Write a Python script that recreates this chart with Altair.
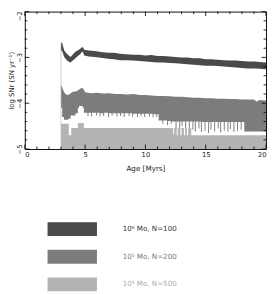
import altair as alt
import pandas as pd

# ---------------- data ----------------
x_domain = [0, 20]
y_domain = [-5, -2]
x_major = [0, 5, 10, 15, 20]
x_minor = [1, 2, 3, 4, 6, 7, 8, 9, 11, 12, 13, 14, 16, 17, 18, 19]
y_major = [-2, -3, -4, -5]
y_minor = [-2.2, -2.4, -2.6, -2.8, -3.2, -3.4, -3.6, -3.8,
           -4.2, -4.4, -4.6, -4.8]

series_labels = ["10⁶ Mo, N=100", "10⁵ Mo, N=200", "10⁴ Mo, N=500"]
series_colors = ["#4a4a4a", "#7c7c7c", "#b4b4b4"]
label_colors = ["#333333", "#777777", "#aaaaaa"]

# 10^6 Mo band (upper / lower edge)
dark_age = [3.0, 3.08, 3.27, 3.45, 3.6, 3.8, 4.0, 4.15, 4.3, 4.45, 4.6, 4.76,
            4.85, 4.92, 5.3, 5.8, 6.3, 6.9, 7.4, 7.9, 8.4, 9.0, 9.5, 10.0,
            10.5, 11.0, 11.5, 12.0, 12.5, 13.0, 13.5, 14.0, 14.5, 15.0, 15.5,
            16.0, 16.5, 17.0, 17.5, 18.0, 18.5, 19.0, 19.5, 20.0]
dark_top = [-2.68, -2.67, -2.85, -2.91, -2.95, -2.99, -2.93, -2.89, -2.86,
            -2.84, -2.81, -2.77, -2.79, -2.83, -2.85, -2.86, -2.88, -2.90,
            -2.90, -2.92, -2.93, -2.94, -2.94, -2.96, -2.95, -2.97, -2.97,
            -2.98, -2.99, -3.00, -3.00, -3.02, -3.02, -3.04, -3.04, -3.05,
            -3.06, -3.07, -3.07, -3.08, -3.09, -3.09, -3.10, -3.11]
dark_bot = [-2.86, -2.85, -2.99, -3.05, -3.09, -3.11, -3.06, -3.03, -2.99,
            -2.96, -2.93, -2.87, -2.90, -2.96, -2.98, -2.99, -3.01, -3.03,
            -3.04, -3.06, -3.06, -3.07, -3.08, -3.09, -3.10, -3.11, -3.11,
            -3.12, -3.13, -3.14, -3.15, -3.16, -3.17, -3.18, -3.18, -3.19,
            -3.20, -3.21, -3.22, -3.23, -3.24, -3.24, -3.25, -3.26]

# 10^5 Mo band: upper edge
mid_top_age = [3.0, 3.08, 3.2, 3.35, 3.6, 3.8, 4.0, 4.3, 4.5, 4.7, 4.85,
               5.0, 5.5, 6.0, 6.5, 7.0, 7.5, 8.0, 8.5, 9.0, 9.5, 10.0, 10.5,
               11.0, 11.5, 12.0, 12.5, 13.0, 13.5, 14.0, 14.5, 15.0, 15.5,
               16.0, 16.5, 17.0, 17.5, 18.0, 18.5, 19.0, 19.25, 19.4, 20.0]
mid_top = [-3.60, -3.64, -3.72, -3.80, -3.82, -3.78, -3.75, -3.74, -3.70,
           -3.67, -3.68, -3.76, -3.78, -3.77, -3.79, -3.78, -3.80, -3.80,
           -3.81, -3.80, -3.82, -3.82, -3.83, -3.84, -3.84, -3.85, -3.86,
           -3.86, -3.87, -3.88, -3.88, -3.89, -3.89, -3.90, -3.90, -3.91,
           -3.91, -3.92, -3.92, -3.92, -3.97, -3.93, -3.94]
# 10^5 Mo band: lower edge (age, log SNr), stepped
mid_bot_pts = [
    (3.0, -4.10), (3.1, -4.30), (3.25, -4.36), (3.6, -4.34), (3.8, -4.27),
    (4.2, -4.22), (4.4, -4.10), (4.5, -4.06), (4.8, -4.10), (4.9, -4.21),
    (5.2, -4.28), (5.28, -4.21), (5.5, -4.29), (5.58, -4.21), (5.9, -4.27),
    (5.98, -4.21), (6.2, -4.29), (6.28, -4.22), (6.5, -4.28), (6.58, -4.21),
    (6.9, -4.30), (6.98, -4.22), (7.2, -4.27), (7.28, -4.22), (7.6, -4.29),
    (7.68, -4.22), (7.9, -4.28), (7.98, -4.22), (8.2, -4.30), (8.28, -4.22),
    (8.6, -4.28), (8.68, -4.22), (8.9, -4.29), (8.98, -4.23), (9.3, -4.30),
    (9.38, -4.23), (9.6, -4.28), (9.68, -4.23), (9.9, -4.30), (9.98, -4.23),
    (10.3, -4.29), (10.38, -4.23), (10.6, -4.31), (10.68, -4.24),
    (10.9, -4.30), (10.98, -4.24), (11.1, -4.38), (11.4, -4.45),
    (11.48, -4.38), (11.8, -4.48), (11.88, -4.39), (12.1, -4.45),
    (12.18, -4.40), (12.5, -4.55), (12.58, -4.40), (12.8, -4.62),
    (12.88, -4.40), (13.0, -4.50), (13.08, -4.40), (13.3, -4.60),
    (13.38, -4.40), (13.6, -4.64), (13.68, -4.40), (13.9, -4.58),
    (13.98, -4.40), (14.1, -4.62), (14.18, -4.40), (14.4, -4.55),
    (14.48, -4.40), (14.6, -4.63), (14.68, -4.41), (14.9, -4.60),
    (14.98, -4.41), (15.2, -4.65), (15.28, -4.41), (15.4, -4.58),
    (15.48, -4.41), (15.7, -4.62), (15.78, -4.41), (16.0, -4.55),
    (16.08, -4.41), (16.2, -4.64), (16.28, -4.41), (16.5, -4.60),
    (16.58, -4.41), (16.8, -4.62), (16.88, -4.41), (17.0, -4.57),
    (17.08, -4.41), (17.3, -4.63), (17.38, -4.41), (17.6, -4.60),
    (17.68, -4.41), (17.9, -4.58), (17.98, -4.41), (18.2, -4.62),
    (20.0, -4.62),
]

# 10^4 Mo band: upper edge (lower edge is the axis floor), stepped
light_top_pts = [
    (3.0, -4.45), (3.65, -4.70), (3.85, -4.54), (4.4, -4.43), (4.9, -4.54),
    (12.3, -4.68), (12.38, -4.54), (12.6, -4.70), (12.68, -4.54),
    (12.9, -4.70), (13.0, -4.54), (13.2, -4.70), (13.3, -4.54),
    (13.45, -4.70), (13.55, -4.54), (13.8, -4.70), (20.0, -4.70),
]

# ---------------- layout / style ----------------
W, H = 244, 139
FONT = "DejaVu Sans"
TXT = "#222222"
MAJ, MINR = 4.5, 2.5  # tick lengths in px
px_x = W / (x_domain[1] - x_domain[0])
px_y = H / (y_domain[1] - y_domain[0])

xenc = alt.X(
    "age:Q",
    scale=alt.Scale(domain=x_domain, nice=False, zero=False),
    axis=alt.Axis(values=x_major, ticks=False, tickSize=0, domain=False,
                  grid=False, labelFont=FONT, labelFontSize=6.8,
                  labelColor=TXT, labelPadding=2.5, title="Age [Myrs]",
                  titleFont=FONT, titleFontSize=7.3, titleFontWeight="normal",
                  titleColor=TXT, titlePadding=6, zindex=1),
)
yenc = alt.Y(
    "v:Q",
    scale=alt.Scale(domain=y_domain, nice=False, zero=False),
    axis=alt.Axis(values=y_major, format="d", ticks=False, tickSize=0,
                  domain=False, grid=False, labelFont=FONT,
                  labelFontSize=6.8, labelColor=TXT, labelAngle=-90,
                  labelAlign="center", labelBaseline="alphabetic",
                  labelPadding=3,
                  labelOffset={"condition": {"test": "datum.value === -2",
                                             "value": 4}, "value": 0},
                  title="log SNr (SN yr⁻¹)", titleFont=FONT,
                  titleFontSize=7, titleFontWeight="normal", titleColor=TXT,
                  titlePadding=2, zindex=1),
)

label_color_expr = (
    f"datum.index === 0 ? '{label_colors[0]}' : "
    f"datum.index === 1 ? '{label_colors[1]}' : '{label_colors[2]}'"
)

# legend swatch: a 50x14 px bar (path in units of half the symbol diameter)
color_enc = alt.Color(
    "series:N",
    scale=alt.Scale(domain=series_labels, range=series_colors),
    legend=alt.Legend(
        title=None, orient="none", legendX=23, legendY=213,
        symbolType="M-3.57,-1H3.57V1H-3.57Z", symbolSize=196,
        symbolOffset=18, symbolStrokeWidth=0, symbolOpacity=1,
        labelOffset=44, rowPadding=14, padding=0, labelFont=FONT,
        labelFontSize=7.2, labelLimit=200,
        labelColor={"expr": label_color_expr},
    ),
)

df_dark = pd.DataFrame({"age": dark_age, "v": dark_top, "v2": dark_bot,
                        "series": series_labels[0]})
df_mid_top = pd.DataFrame({"age": mid_top_age, "v": mid_top,
                           "series": series_labels[1]})
df_mid_bot = pd.DataFrame(mid_bot_pts, columns=["age", "v"])
df_light = pd.DataFrame(light_top_pts, columns=["age", "v"]).assign(
    series=series_labels[2])

floor = alt.datum(y_domain[0])

mid_fill = alt.Chart(df_mid_top).mark_area(opacity=1, clip=True).encode(
    x=xenc, y=yenc, y2=floor, color=color_enc)
mid_cut = alt.Chart(df_mid_bot).mark_area(
    opacity=1, clip=True, interpolate="step-after", color="white").encode(
    x=xenc, y=yenc, y2=floor)
light_fill = alt.Chart(df_light).mark_area(
    opacity=1, clip=True, interpolate="step-after").encode(
    x=xenc, y=yenc, y2=floor, color=color_enc)
dark_fill = alt.Chart(df_dark).mark_area(opacity=1, clip=True).encode(
    x=xenc, y=yenc, y2=alt.Y2("v2:Q"), color=color_enc)

onset = alt.Chart(pd.DataFrame({"age": [dark_age[0]], "v": [y_domain[0]],
                                "v2": [dark_top[0]]})).mark_rule(
    color="#b8b8b8", strokeWidth=0.7).encode(x=xenc, y=yenc,
                                             y2=alt.Y2("v2:Q"))

# tick marks (inward) on all four sides
rows = []
for xs, L in ((x_major, MAJ), (x_minor, MINR)):
    for xv in xs:
        rows.append({"age": xv, "age2": xv, "v": y_domain[0],
                     "v2": y_domain[0] + L / px_y})
        rows.append({"age": xv, "age2": xv, "v": y_domain[1],
                     "v2": y_domain[1] - L / px_y})
for ys, L in ((y_major, MAJ), (y_minor, MINR)):
    for yv in ys:
        rows.append({"age": x_domain[0], "age2": x_domain[0] + L / px_x,
                     "v": yv, "v2": yv})
        rows.append({"age": x_domain[1], "age2": x_domain[1] - L / px_x,
                     "v": yv, "v2": yv})
ticks = alt.Chart(pd.DataFrame(rows)).mark_rule(
    color="#111111", strokeWidth=0.9).encode(
    x=xenc, x2=alt.X2("age2:Q"), y=yenc, y2=alt.Y2("v2:Q"))

chart = alt.layer(mid_fill, mid_cut, light_fill, dark_fill, onset, ticks
                  ).properties(
    width=W, height=H,
    padding={"left": 0, "top": 0, "right": 0, "bottom": 0},
    background="white",
).configure_view(stroke="#111111", strokeWidth=1)

chart.save("out.html", embed_options={"renderer": "svg", "actions": False})
